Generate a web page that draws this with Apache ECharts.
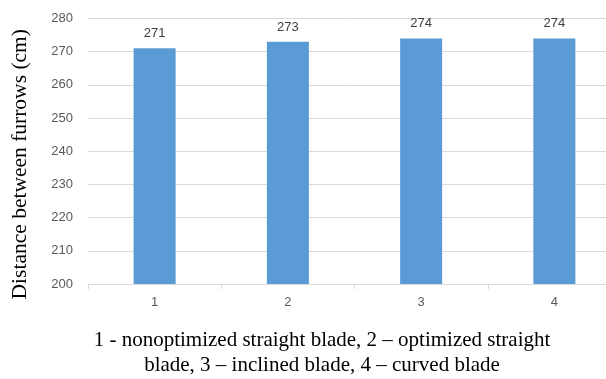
<!DOCTYPE html>
<html>
<head>
<meta charset="utf-8">
<script src="https://cdn.jsdelivr.net/npm/echarts@6/dist/echarts.min.js"></script>
<style>
  html, body { margin: 0; padding: 0; background: #ffffff; }
  #chart { width: 606px; height: 379px; }
</style>
</head>
<body>
<div id="chart"></div>
<script>
// Blade types along the x axis and measured furrow spacing
const categories = ['1', '2', '3', '4'];
const distances = [271, 273, 274, 274];
const yAxisTitle = 'Distance between furrows (cm)';
const captionLines = [
  '1 - nonoptimized straight blade, 2 \u2013 optimized straight',
  'blade, 3 \u2013 inclined blade, 4 \u2013 curved blade'
];

const chart = echarts.init(document.getElementById('chart'), null, { renderer: 'canvas' });

const sansFont = '"Liberation Sans", Arial, sans-serif';
const serifFont = '"Liberation Serif", "Times New Roman", serif';

chart.setOption({
  animation: false,
  backgroundColor: '#ffffff',
  grid: { left: 88, right: -15, top: 18.5, bottom: 95, containLabel: false, outerBoundsMode: 'none' },
  xAxis: {
    type: 'category',
    data: categories,
    axisLine: { show: true, lineStyle: { color: '#d9d9d9', width: 1 } },
    axisTick: { show: true, alignWithLabel: false, length: 5, lineStyle: { color: '#d9d9d9' } },
    axisLabel: { color: '#595959', fontFamily: sansFont, fontSize: 13, margin: 12 },
    splitLine: { show: false }
  },
  yAxis: {
    type: 'value',
    min: 200,
    max: 280,
    interval: 10,
    name: yAxisTitle,
    nameLocation: 'middle',
    nameGap: 57,
    // extra right padding nudges the rotated title slightly below the plot centre
    nameTextStyle: { color: '#000000', fontFamily: serifFont, fontSize: 21.5, padding: [0, 26, 0, 0] },
    axisLine: { show: false },
    axisTick: { show: false },
    axisLabel: { color: '#595959', fontFamily: sansFont, fontSize: 13, margin: 15 },
    splitLine: { show: true, lineStyle: { color: '#d9d9d9', width: 1 } }
  },
  series: [{
    type: 'bar',
    data: distances,
    barWidth: 42,
    itemStyle: { color: '#5b9bd5' },
    label: {
      show: true,
      position: 'top',
      distance: 8,
      color: '#404040',
      fontFamily: sansFont,
      fontSize: 13
    }
  }],
  graphic: captionLines.map((line, i) => ({
    type: 'text',
    x: 322,
    y: 340 + i * 25,
    style: {
      text: line,
      fill: '#000000',
      font: '21px ' + serifFont,
      textAlign: 'center',
      textVerticalAlign: 'middle'
    }
  }))
});
</script>
</body>
</html>
